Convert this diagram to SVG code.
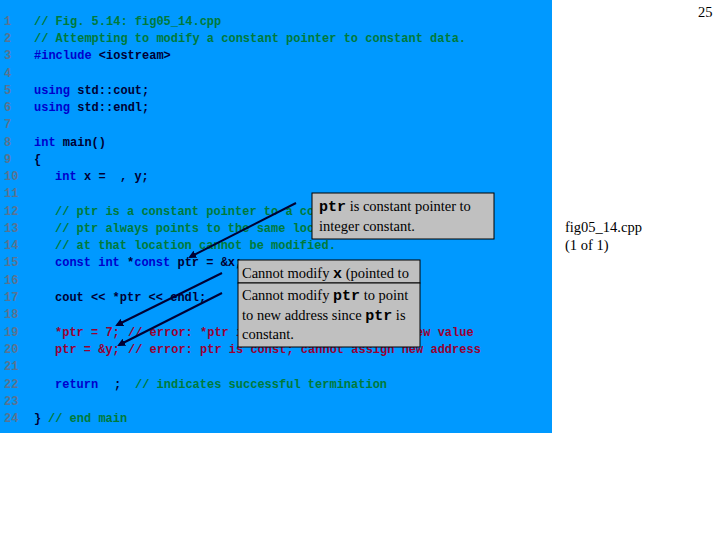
<svg xmlns="http://www.w3.org/2000/svg" width="720" height="540" viewBox="0 0 720 540">
<style>
.c{font-family:"Liberation Mono",monospace;font-size:12px;font-weight:bold}
.n{fill:#5a7390}.g{fill:#007a3a}.k{fill:#0000cc}.d{fill:#000033}.r{fill:#990033}
.t{font-family:"Liberation Serif",serif;font-size:14.5px;fill:#000}
.box{fill:#c0c0c0;stroke:#000;stroke-width:1}
.ar{stroke:#000033;stroke-width:2;fill:none;marker-end:url(#ah)}
</style>
<defs><marker id="ah" markerWidth="8" markerHeight="8" refX="6" refY="4" orient="auto" markerUnits="userSpaceOnUse"><path d="M0,0 L8,4 L0,8 z" fill="#000033"/></marker></defs>
<rect width="720" height="540" fill="#fff"/>
<rect x="0" y="0" width="552" height="433" fill="#0099ff"/>
<g id="code" class="c">
<text x="4" y="25"><tspan class="n">1</tspan><tspan x="34" class="g">// Fig. 5.14: fig05_14.cpp</tspan></text>
<text x="4" y="42"><tspan class="n">2</tspan><tspan x="34" class="g">// Attempting to modify a constant pointer to constant data.</tspan></text>
<text x="4" y="59"><tspan class="n">3</tspan><tspan x="34" class="k">#include</tspan><tspan class="d"> &lt;iostream&gt;</tspan></text>
<text x="4" y="77"><tspan class="n">4</tspan></text>
<text x="4" y="94"><tspan class="n">5</tspan><tspan x="34" class="k">using</tspan><tspan class="d"> std::cout;</tspan></text>
<text x="4" y="111"><tspan class="n">6</tspan><tspan x="34" class="k">using</tspan><tspan class="d"> std::endl;</tspan></text>
<text x="4" y="128"><tspan class="n">7</tspan></text>
<text x="4" y="146"><tspan class="n">8</tspan><tspan x="34" class="k">int</tspan><tspan class="d"> main()</tspan></text>
<text x="4" y="163"><tspan class="n">9</tspan><tspan x="34" class="d">{</tspan></text>
<text x="4" y="180"><tspan class="n">10</tspan><tspan x="55" class="k">int</tspan><tspan x="84" class="d">x =</tspan><tspan x="120" class="d">, y;</tspan></text>
<text x="4" y="197"><tspan class="n">11</tspan></text>
<text x="4" y="215"><tspan class="n">12</tspan><tspan x="55" class="g">// ptr is a constant pointer to a constant integer.</tspan></text>
<text x="4" y="232"><tspan class="n">13</tspan><tspan x="55" class="g">// ptr always points to the same location; the integer</tspan></text>
<text x="4" y="249"><tspan class="n">14</tspan><tspan x="55" class="g">// at that location cannot be modified.</tspan></text>
<text x="4" y="266"><tspan class="n">15</tspan><tspan x="55" class="k">const int</tspan><tspan class="d"> *</tspan><tspan class="k">const</tspan><tspan class="d"> ptr = &amp;x;</tspan></text>
<text x="4" y="284"><tspan class="n">16</tspan></text>
<text x="4" y="301"><tspan class="n">17</tspan><tspan x="55" class="d">cout &lt;&lt; *ptr &lt;&lt; endl;</tspan></text>
<text x="4" y="318"><tspan class="n">18</tspan></text>
<text x="4" y="336"><tspan class="n">19</tspan><tspan x="55" class="r">*ptr = 7;</tspan><tspan x="128" class="r">// error: *ptr is const; cannot assign new value</tspan></text>
<text x="4" y="353"><tspan class="n">20</tspan><tspan x="55" class="r">ptr = &amp;y;</tspan><tspan x="128" class="r">// error: ptr is const; cannot assign new address</tspan></text>
<text x="4" y="370"><tspan class="n">21</tspan></text>
<text x="4" y="388"><tspan class="n">22</tspan><tspan x="55" class="k">return</tspan><tspan x="114" class="d">;</tspan><tspan x="135" class="g">// indicates successful termination</tspan></text>
<text x="4" y="405"><tspan class="n">23</tspan></text>
<text x="4" y="422"><tspan class="n">24</tspan><tspan x="34" class="d">}</tspan><tspan x="48" class="g">// end main</tspan></text>
</g>
<g id="connectors">
<line class="ar" x1="296" y1="203" x2="190" y2="257"/>
<line class="ar" x1="222" y1="273" x2="117" y2="325"/>
<line class="ar" x1="222" y1="293" x2="119" y2="345"/>
</g>
<g id="callout1"><rect class="box" x="312" y="193" width="182" height="46"/>
<text class="t" x="319" y="211"><tspan font-family="Liberation Mono" font-weight="bold" font-size="15">ptr</tspan> is constant pointer to</text>
<text class="t" x="319" y="231">integer constant.</text></g>
<g id="callout2"><rect class="box" x="238" y="260" width="182" height="23"/>
<text class="t" x="242" y="278">Cannot modify <tspan font-family="Liberation Mono" font-weight="bold" font-size="15">x</tspan> (pointed to</text></g>
<g id="callout3"><rect class="box" x="238" y="283" width="182" height="64"/>
<text class="t" x="242" y="300">Cannot modify <tspan font-family="Liberation Mono" font-weight="bold" font-size="15">ptr</tspan> to point</text>
<text class="t" x="242" y="320">to new address since <tspan font-family="Liberation Mono" font-weight="bold" font-size="15">ptr</tspan> is</text>
<text class="t" x="242" y="339">constant.</text></g>
<text class="t" x="698" y="17" font-size="13">25</text>
<text class="t" x="565" y="232">fig05_14.cpp</text>
<text class="t" x="565" y="250">(1 of 1)</text>
</svg>
